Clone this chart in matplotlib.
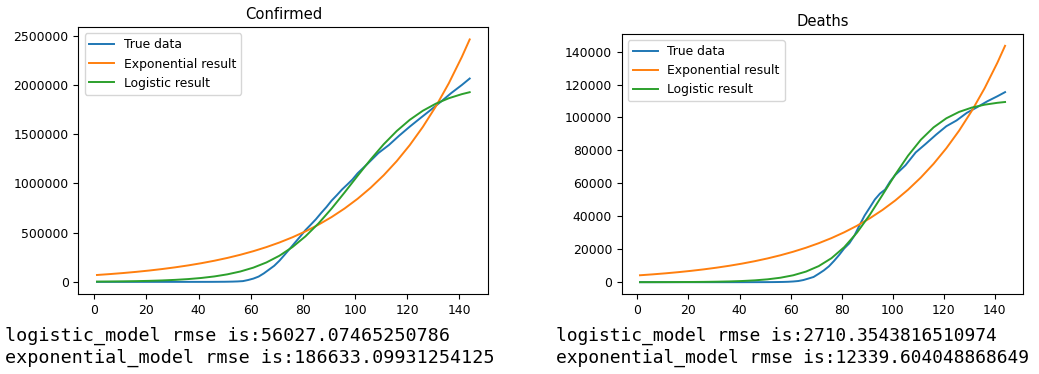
import matplotlib
matplotlib.use("Agg")
import matplotlib.pyplot as plt

plt.rcParams["font.size"] = 8.9
plt.rcParams["lines.linewidth"] = 1.4

# cumulative case / death counts (day 1 = Jan 22)
days = [1, 10, 20, 30, 40, 45, 50, 53, 55, 57, 59, 61, 63, 65, 67, 69, 71, 73, 75,
        77, 79, 81, 83, 85, 87, 89, 91, 93, 95, 97, 99, 101, 105, 109, 113, 117,
        121, 125, 129, 133, 137, 141, 144]
confirmed = [1, 7, 11, 15, 75, 320, 1280, 2730, 4630, 7790, 19100, 33300, 53700,
             86000, 124700, 163500, 215000, 275600, 337100, 399900, 461400, 526400,
             580600, 636400, 699700, 759100, 825000, 880200, 938200, 988200,
             1039900, 1103500, 1204400, 1309600, 1390400, 1486800, 1577100,
             1662300, 1746000, 1831800, 1920100, 2000700, 2066000]
deaths = [0, 0, 0, 0, 1, 12, 36, 57, 97, 150, 244, 427, 706, 1300, 2220, 3170, 5100,
          7150, 9620, 12900, 16500, 20500, 23600, 28300, 34600, 40500, 45300, 50200,
          53800, 56200, 61200, 65100, 71000, 78800, 84100, 89600, 94700, 98200,
          102800, 106200, 109800, 112900, 115400]

# fitted model curves
fit_days = [1, 6, 11, 16, 21, 26, 31, 36, 41, 46, 51, 56, 61, 66, 71, 76, 81, 86,
            91, 96, 101, 106, 111, 116, 121, 126, 131, 136, 141, 144]
confirmed_exp = [70000, 79300, 89800, 101700, 115200, 130500, 147800, 167400,
                 189600, 214700, 243200, 275400, 311900, 353300, 400100, 453100,
                 513200, 581300, 658300, 745600, 844400, 956400, 1083200, 1226800,
                 1389400, 1573600, 1782200, 2018400, 2286000, 2463300]
confirmed_log = [2730, 3830, 5350, 7480, 10470, 14640, 20450, 28500, 39700, 55200,
                 76500, 105500, 144800, 197200, 265800, 353600, 462900, 593900,
                 744300, 908300, 1077900, 1243800, 1398000, 1532600, 1646300,
                 1738400, 1810500, 1865900, 1907500, 1927100]
deaths_exp = [4203, 4755, 5380, 6086, 6886, 7790, 8814, 9972, 11283, 12765, 14443,
              16340, 18488, 20916, 23664, 26772, 30292, 34272, 38777, 43870, 49635,
              56158, 63538, 71881, 81328, 92008, 104111, 117793, 133271, 143525]
deaths_log = [20, 31, 48, 76, 119, 186, 291, 456, 714, 1116, 1740, 2705, 4184, 6424,
              9754, 14567, 21264, 30073, 40869, 53008, 65371, 76817, 86469, 93997,
              99524, 103400, 106028, 107777, 108920, 109408]

titles = ["Confirmed", "Deaths"]
logistic_rmse = ["56027.07465250786", "2710.3543816510974"]
exponential_rmse = ["186633.09931254125", "12339.604048868649"]

fig = plt.figure(figsize=(10.39, 3.74), dpi=100)

# axes rect, printed-text x position and size for each panel
panels = [
    (confirmed, confirmed_exp, confirmed_log, [0.0754, 0.2139, 0.3946, 0.7131], 0.005, 13.2),
    (deaths, deaths_exp, deaths_log, [0.5984, 0.2139, 0.3865, 0.6952], 0.535, 12.85),
]

for i, (true_vals, exp_vals, log_vals, rect, text_x, text_size) in enumerate(panels):
    ax = fig.add_axes(rect)
    ax.plot(days, true_vals, label="True data")
    ax.plot(fit_days, exp_vals, label="Exponential result")
    ax.plot(fit_days, log_vals, label="Logistic result")
    ax.set_title(titles[i], fontsize=10.6)
    ax.ticklabel_format(style="plain", axis="y")
    ax.legend(loc="upper left")

    fig.text(text_x, 0.088, "logistic_model rmse is:" + logistic_rmse[i],
             family="DejaVu Sans Mono", fontsize=text_size)
    fig.text(text_x, 0.029, "exponential_model rmse is:" + exponential_rmse[i],
             family="DejaVu Sans Mono", fontsize=text_size)

plt.savefig("out.png", dpi=100)
